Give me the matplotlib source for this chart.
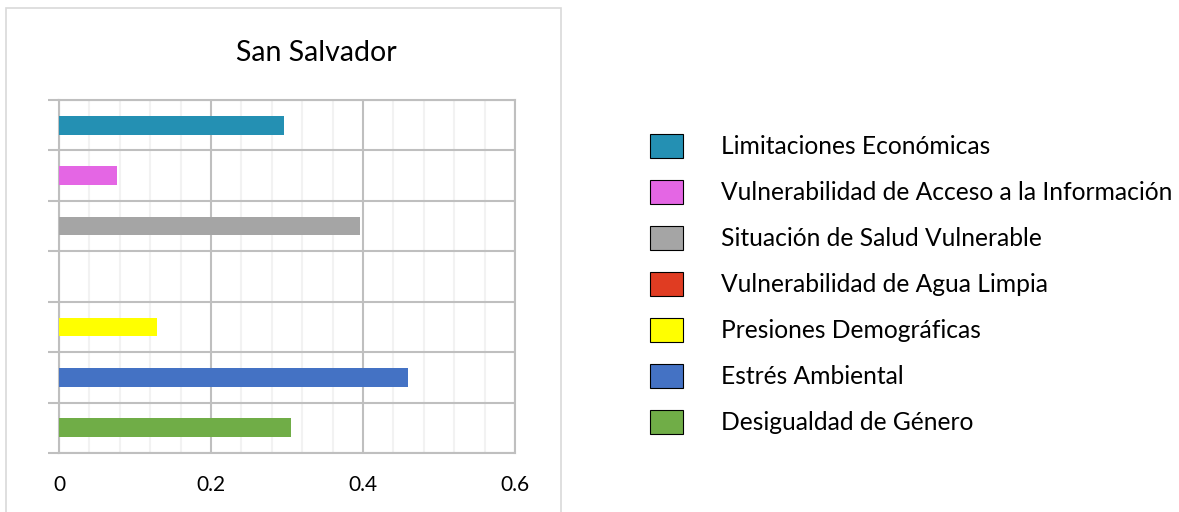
import matplotlib.pyplot as plt
import numpy as np
from matplotlib.patches import Rectangle, Patch
from matplotlib.ticker import MultipleLocator

plt.rcParams['font.family'] = ['Lato', 'DejaVu Sans']

# categories from bottom to top
categories = ["Desigualdad de Género", "Estrés Ambiental", "Presiones Demográficas",
              "Vulnerabilidad de Agua Limpia", "Situación de Salud Vulnerable",
              "Vulnerabilidad de Acceso a la Información", "Limitaciones Económicas"]
values = [0.305, 0.459, 0.129, 0.0, 0.396, 0.076, 0.296]
colors = ["#70AD47", "#4472C4", "#FFFF00", "#E03C22", "#A5A5A5", "#E466E4", "#2490B3"]
x_ticks = [0, 0.2, 0.4, 0.6]
title = "San Salvador"

fig = plt.figure(figsize=(11.79, 5.12), dpi=100)

# outer chart frame
fig.patches.append(Rectangle((6 / 1179, -0.05), 555 / 1179, 1.05 - 8 / 512,
                             transform=fig.transFigure, fill=False,
                             edgecolor="#D9D9D9", linewidth=1.2))

ax = fig.add_axes([59 / 1179, 1 - 453 / 512, 456 / 1179, 353 / 512])

y = np.arange(len(categories))
ax.barh(y, values, height=0.37, color=colors, zorder=3)

ax.set_xlim(0, 0.6)
ax.set_ylim(-0.5, len(categories) - 0.5)
ax.set_xticks(x_ticks)
ax.set_xticklabels(["0", "0.2", "0.4", "0.6"], fontsize=15)
ax.xaxis.set_minor_locator(MultipleLocator(0.04))
ax.tick_params(axis="x", length=0, pad=16)
ax.tick_params(axis="x", which="minor", length=0)

ax.set_yticks(np.arange(len(categories) + 1) - 0.5)
ax.set_yticklabels([])
ax.tick_params(axis="y", length=8, color="#BFBFBF", width=1.5)

ax.grid(axis="x", which="major", color="#BFBFBF", linewidth=1.5, zorder=1)
ax.grid(axis="x", which="minor", color="#F2F2F2", linewidth=1.5, zorder=0)
ax.grid(axis="y", which="major", color="#BFBFBF", linewidth=1.5, zorder=1)
for s in ax.spines.values():
    s.set_color("#BFBFBF")
    s.set_linewidth(1.5)

fig.text(316 / 1179, 1 - 53 / 512, title, ha="center", va="center", fontsize=20.5)

handles = [Patch(facecolor=c, edgecolor="black", linewidth=0.8) for c in colors[::-1]]
fig.legend(handles, categories[::-1], loc="upper left", bbox_to_anchor=(628 / 1179, 1 - 112 / 512),
           frameon=False, fontsize=17.7, handlelength=1.33, handleheight=1.12,
           handletextpad=1.55, labelspacing=0.88)

fig.savefig("out.png", dpi=100)
